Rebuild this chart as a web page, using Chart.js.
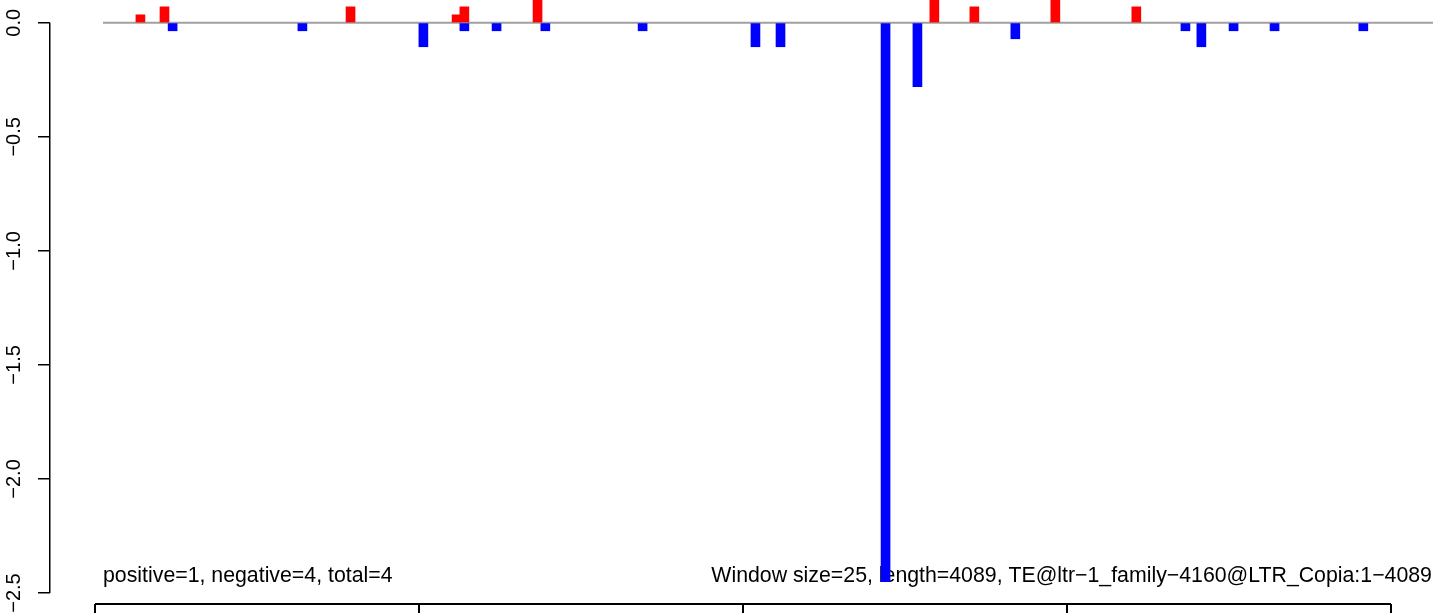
<!DOCTYPE html>
<html>
<head>
<meta charset="utf-8">
<script src="https://cdn.jsdelivr.net/npm/chart.js@4/dist/chart.umd.min.js"></script>
<style>
  html, body { margin: 0; padding: 0; background: #ffffff; }
  #wrap { width: 1444px; height: 613px; }
</style>
</head>
<body>
<div id="wrap"><canvas id="c" width="1444" height="613"></canvas></div>
<script>
// ---- data ----
const seqLength = 4089;
const positiveX = [115, 189, 761, 1087, 1111, 1336, 2556, 2679, 2928, 3177];
const positiveY = [0.035, 0.07, 0.07, 0.035, 0.07, 0.14, 0.14, 0.07, 0.14, 0.07];
const negativeX = [214, 613, 985, 1111, 1210, 1360, 1659, 2006, 2083, 2406, 2504, 2805, 3328, 3377, 3476, 3602, 3875];
const negativeY = [-0.035, -0.035, -0.105, -0.035, -0.035, -0.035, -0.035, -0.105, -0.105, -2.45, -0.28, -0.07, -0.035, -0.105, -0.035, -0.035, -0.035];
const yTickValues = [0, -0.5, -1.0, -1.5, -2.0, -2.5];
const yTickLabels = ['0.0', '\u22120.5', '\u22121.0', '\u22121.5', '\u22122.0', '\u22122.5'];
const leftNote = 'positive=1, negative=4, total=4';
const rightNote = 'Window size=25, length=4089, TE@ltr\u22121_family\u22124160@LTR_Copia:1\u22124089';

const posData = positiveX.map((x, i) => ({ x: x, y: positiveY[i] }));
const negData = negativeX.map((x, i) => ({ x: x, y: negativeY[i] }));
const zeroLine = [{ x: 0, y: 0 }, { x: seqLength, y: 0 }];

const FONT = 'Liberation Sans, Arial, Helvetica, sans-serif';

const decoPlugin = {
  id: 'deco',
  beforeDatasetsDraw(chart) {
    const ctx = chart.ctx;
    const xs = chart.scales.x;
    ctx.save();
    ctx.fillStyle = '#000000';
    ctx.font = '21.3px ' + FONT;
    ctx.textBaseline = 'alphabetic';
    ctx.textAlign = 'left';
    ctx.fillText(leftNote, xs.getPixelForValue(0), 582);
    ctx.textAlign = 'right';
    ctx.fillText(rightNote, xs.getPixelForValue(seqLength) - 1, 582);
    ctx.restore();
  },
  afterDraw(chart) {
    const ctx = chart.ctx;
    const ys = chart.scales.y;
    const left = chart.chartArea.left;
    ctx.save();
    // y axis line spanning the tick range only
    ctx.strokeStyle = '#000000';
    ctx.lineWidth = 1.5;
    ctx.beginPath();
    ctx.moveTo(left - 0.25, ys.getPixelForValue(yTickValues[0]));
    ctx.lineTo(left - 0.25, ys.getPixelForValue(yTickValues[yTickValues.length - 1]));
    ctx.stroke();
    // bottom box (top edge of lower panel)
    const boxL = 95, boxR = 1391, boxTop = 604;
    ctx.lineWidth = 2;
    ctx.beginPath();
    ctx.moveTo(boxL, boxTop);
    ctx.lineTo(boxR, boxTop);
    for (let i = 0; i <= 4; i++) {
      const xx = boxL + (boxR - boxL) * i / 4;
      ctx.moveTo(xx, boxTop);
      ctx.lineTo(xx, chart.height + 2);
    }
    ctx.stroke();
    ctx.restore();
  }
};

new Chart(document.getElementById('c'), {
  type: 'bar',
  data: {
    datasets: [
      { type: 'line', data: zeroLine, borderColor: '#A0A0A0', borderWidth: 2, pointRadius: 0, order: 5 },
      { data: posData, backgroundColor: '#FF0000', borderWidth: 0, barThickness: 9, grouped: false, order: 1 },
      { data: negData, backgroundColor: '#0000FF', borderWidth: 0, barThickness: 9, grouped: false, order: 1 }
    ]
  },
  options: {
    responsive: false,
    maintainAspectRatio: false,
    animation: false,
    layout: { padding: { left: 0, right: 0, top: 0, bottom: 20 } },
    plugins: { legend: { display: false }, tooltip: { enabled: false } },
    scales: {
      x: {
        type: 'linear',
        offset: false,
        min: -163,
        max: 4123,
        display: false
      },
      y: {
        type: 'linear',
        min: -2.5,
        max: 0.1,
        afterFit(scale) { scale.width = 50; scale.paddingTop = 0; scale.paddingBottom = 0; },
        afterBuildTicks(scale) { scale.ticks = yTickValues.map(v => ({ value: v })); },
        border: { display: false },
        grid: { display: true, drawOnChartArea: false, drawTicks: true, tickLength: 12, color: '#000000', lineWidth: 1.5 },
        ticks: {
          minRotation: 90,
          maxRotation: 90,
          crossAlign: 'center',
          padding: 4,
          color: '#000000',
          font: { family: FONT, size: 20 },
          callback: (v) => {
            const i = yTickValues.findIndex(t => Math.abs(t - v) < 1e-9);
            return i >= 0 ? yTickLabels[i] : '';
          }
        }
      }
    }
  },
  plugins: [decoPlugin]
});
</script>
</body>
</html>
